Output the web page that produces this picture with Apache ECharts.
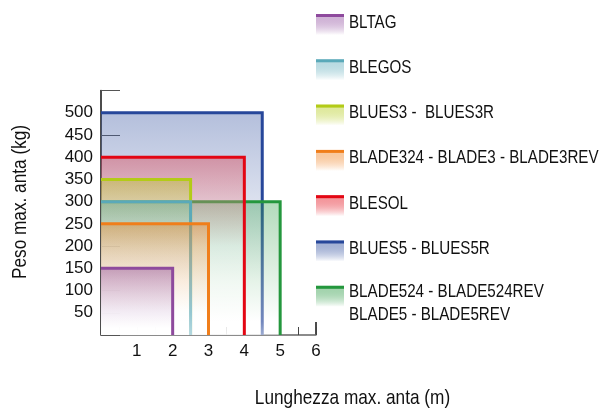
<!DOCTYPE html>
<html>
<head>
<meta charset="utf-8">
<script src="https://cdn.jsdelivr.net/npm/echarts@6/dist/echarts.min.js"></script>
<style>
html,body{margin:0;padding:0;background:#fff;}
#chart{width:601px;height:411px;}
</style>
</head>
<body>
<div id="chart"></div>
<script>
// ---- data ----
var productNames = [
  'BLTAG',
  'BLEGOS',
  'BLUES3 -  BLUES3R',
  'BLADE324 - BLADE3 - BLADE3REV',
  'BLESOL',
  'BLUES5 - BLUES5R',
  'BLADE524 - BLADE524REV\nBLADE5 - BLADE5REV'
];
var maxLength = [2, 2.5, 2.5, 3, 4, 4.5, 5];       // m
var maxWeight = [150, 300, 350, 250, 400, 500, 300]; // kg
var xTickLabels = ['1', '2', '3', '4', '5', '6'];
var yTickLabels = ['50', '100', '150', '200', '250', '300', '350', '400', '450', '500'];

// ---- styles ----
var lineColors = ['#8e4a9d', '#5aa9b9', '#b3cb17', '#f07e1b', '#e30613', '#27479a', '#24973d'];
var fillRGB = [[142,74,157],[90,169,185],[179,203,23],[240,126,27],[227,6,19],[39,71,154],[36,151,61]];
var fillTopAlpha = [0.45, 0.35, 0.4, 0.4, 0.3, 0.35, 0.35];
var fadeStop = [0.9, 0.6, 0.5, 0.8, 0.5, 0.75, 0.9];
var drawOrder = [5, 6, 4, 2, 1, 3, 0];
var FONT = "'Liberation Sans',Arial,sans-serif";
var NARROW = 0.82;

function rgba(c, a) { return 'rgba(' + c[0] + ',' + c[1] + ',' + c[2] + ',' + a + ')'; }
function fillGradient(i) {
  return new echarts.graphic.LinearGradient(0, 0, 0, 1, [
    { offset: 0, color: rgba(fillRGB[i], fillTopAlpha[i]) },
    { offset: fadeStop[i], color: 'rgba(255,255,255,0.35)' },
    { offset: 1, color: 'rgba(255,255,255,0.55)' }
  ]);
}

var chart = echarts.init(document.getElementById('chart'), null, { renderer: 'canvas' });

var series = drawOrder.map(function (i) {
  return {
    type: 'custom',
    name: productNames[i],
    data: [[0, maxLength[i], maxWeight[i]]],
    clip: false,
    renderItem: function (params, api) {
      var p0 = api.coord([api.value(0), api.value(2)]);
      var p1 = api.coord([api.value(1), api.value(2)]);
      var p2 = api.coord([api.value(1), 0]);
      return {
        type: 'group',
        children: [
          {
            type: 'rect',
            shape: { x: p0[0], y: p0[1], width: p1[0] - p0[0], height: p2[1] - p0[1] },
            style: { fill: fillGradient(i) }
          },
          {
            type: 'polyline',
            shape: { points: [p0, p1, p2] },
            style: { stroke: lineColors[i], lineWidth: 3, fill: null }
          }
        ]
      };
    }
  };
});

// legend built from names / colors
var graphics = [];
productNames.forEach(function (name, i) {
  var top = 14 + 45.3 * i;
  graphics.push({
    type: 'rect',
    x: 316, y: top,
    shape: { width: 28, height: 21 },
    style: {
      fill: new echarts.graphic.LinearGradient(0, 0, 0, 1, [
        { offset: 0, color: rgba(fillRGB[i], 0.4) },
        { offset: 1, color: 'rgba(255,255,255,1)' }
      ])
    }
  });
  graphics.push({
    type: 'rect',
    x: 316, y: top,
    shape: { width: 28, height: 3 },
    style: { fill: lineColors[i] }
  });
  var multi = name.indexOf('\n') >= 0;
  graphics.push({
    type: 'text',
    x: 349,
    y: top + (multi ? 6.5 : 8.5) - 11.25,
    scaleX: NARROW,
    style: {
      text: name,
      font: '18.5px ' + FONT,
      fill: '#111',
      lineHeight: 22.5,
      verticalAlign: 'top'
    }
  });
});

graphics.push({
  type: 'text',
  x: 352.5, y: 398, scaleX: NARROW,
  style: { text: 'Lunghezza max. anta (m)', font: '21px ' + FONT, fill: '#111', align: 'center', verticalAlign: 'middle' }
});
graphics.push({
  type: 'text',
  x: 20, y: 202, rotation: Math.PI / 2, scaleX: NARROW,
  style: { text: 'Peso max. anta (kg)', font: '21px ' + FONT, fill: '#111', align: 'center', verticalAlign: 'middle' }
});

var option = {
  animation: false,
  backgroundColor: '#fff',
  grid: { left: 101, top: 90.5, width: 215, height: 244.5, containLabel: false, outerBoundsMode: 'none' },
  xAxis: {
    type: 'value', min: 0, max: 6, interval: 0.5,
    axisLine: { show: true, onZero: false, lineStyle: { color: '#666', width: 1.5 } },
    axisTick: { show: true, inside: true, length: 8, lineStyle: { color: '#444', width: 1 } },
    axisLabel: {
      margin: 8, color: '#111', fontSize: 17, fontFamily: FONT,
      formatter: function (v) {
        var idx = xTickLabels.indexOf(String(v));
        return idx >= 0 ? xTickLabels[idx] : '';
      }
    },
    splitLine: { show: false }
  },
  yAxis: {
    type: 'value', min: 0, max: 550, interval: 50,
    axisLine: { show: true, onZero: false, lineStyle: { color: '#111', width: 1.5 } },
    axisTick: { show: true, inside: true, length: 19, lineStyle: { color: '#555', width: 1 } },
    axisLabel: {
      margin: 8, color: '#111', fontSize: 17, fontFamily: FONT,
      formatter: function (v) {
        var idx = yTickLabels.indexOf(String(v));
        return idx >= 0 ? yTickLabels[idx] : '';
      }
    },
    splitLine: { show: false }
  },
  graphic: graphics,
  series: series
};
chart.setOption(option);

// taller end tick at the right end of the x axis
var endPt = chart.convertToPixel({ gridIndex: 0 }, [6, 0]);
graphics.push({
  type: 'line',
  shape: { x1: endPt[0], y1: endPt[1], x2: endPt[0], y2: endPt[1] - 13 },
  style: { stroke: '#111', lineWidth: 1.5 }
});
chart.setOption({ graphic: graphics });
</script>
</body>
</html>
